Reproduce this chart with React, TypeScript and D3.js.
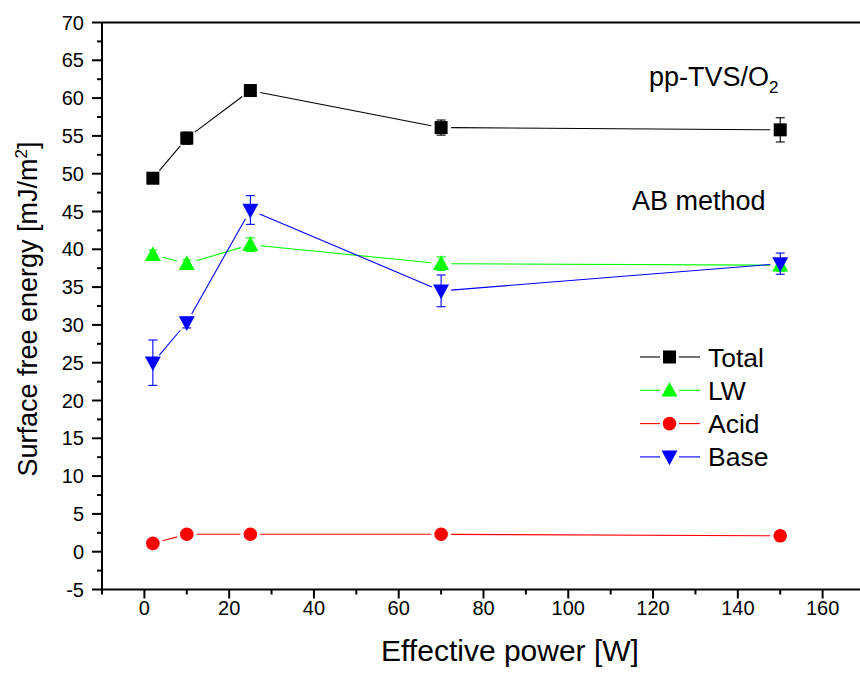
import React from "react";
import * as d3 from "d3";

// Effective discharge power [W]
const power = [2, 10, 25, 70, 150];

// Surface free energy components [mJ/m^2] and their standard deviations
const total = [49.4, 54.7, 61.0, 56.1, 55.8];
const totalErr = [0.3, 0.8, 0.3, 1.0, 1.6];
const lw = [39.3, 38.1, 40.6, 38.1, 37.9];
const lwErr = [0.6, 0.5, 0.9, 0.9, 0.8];
const acid = [1.1, 2.3, 2.3, 2.3, 2.1];
const acidErr = [0.1, 0.1, 0.1, 0.1, 0.1];
const base = [25.0, 30.3, 45.2, 34.5, 38.1];
const baseErr = [3.0, 0.7, 1.9, 2.1, 1.4];

const xTicks = [0, 20, 40, 60, 80, 100, 120, 140, 160];
const yTicks = [-5, 0, 5, 10, 15, 20, 25, 30, 35, 40, 45, 50, 55, 60, 65, 70];

type Shape = "square" | "triangle" | "circle" | "down";

const seriesList: { name: string; values: number[]; errs: number[]; color: string; shape: Shape }[] = [
  { name: "Total", values: total, errs: totalErr, color: "#000000", shape: "square" },
  { name: "LW", values: lw, errs: lwErr, color: "#00ff00", shape: "triangle" },
  { name: "Acid", values: acid, errs: acidErr, color: "#ff0000", shape: "circle" },
  { name: "Base", values: base, errs: baseErr, color: "#0000ff", shape: "down" },
];

const W = 860;
const H = 693;
const left = 102;
const right = 865;
const top = 22.5;
const bottom = 589.5;
const FONT = "Arial, 'Liberation Sans', Helvetica, sans-serif";

const x = d3.scaleLinear().domain([-10, 170]).range([left, right]);
const y = d3.scaleLinear().domain([-5, 70]).range([bottom, top]);

function Marker({ shape, cx, cy, color }: { shape: Shape; cx: number; cy: number; color: string }) {
  if (shape === "square") {
    return <rect x={cx - 6.5} y={cy - 6.5} width={13} height={13} fill={color} />;
  }
  if (shape === "circle") {
    return <circle cx={cx} cy={cy} r={6.8} fill={color} />;
  }
  const s = 8;
  const h = 14;
  const pts =
    shape === "triangle"
      ? [[cx, cy - h * 0.6], [cx - s, cy + h * 0.45], [cx + s, cy + h * 0.45]]
      : [[cx, cy + h * 0.6], [cx - s, cy - h * 0.45], [cx + s, cy - h * 0.45]];
  return <polygon points={pts.map((p) => p.join(",")).join(" ")} fill={color} />;
}

// Connecting segments leave a small gap around each marker
function gappedSegments(pts: [number, number][], gap: number) {
  const segs: [number, number, number, number][] = [];
  for (let i = 0; i < pts.length - 1; i++) {
    const [x1, y1] = pts[i];
    const [x2, y2] = pts[i + 1];
    const len = Math.hypot(x2 - x1, y2 - y1);
    if (len <= 2 * gap) continue;
    const ux = (x2 - x1) / len;
    const uy = (y2 - y1) / len;
    segs.push([x1 + ux * gap, y1 + uy * gap, x2 - ux * gap, y2 - uy * gap]);
  }
  return segs;
}

export default function App() {
  const xMinor = d3.range(-10, 171, 10).filter((v) => v % 20 !== 0);
  const yMinor = d3.range(-2.5, 70, 5);

  return (
    <svg width={W} height={H} style={{ display: "block", position: "absolute", left: 0, top: 0 }} fontFamily={FONT}>
      <rect width={W} height={H} fill="#ffffff" />

      {/* series */}
      {seriesList.map((s) => {
        const pts: [number, number][] = power.map((p, i) => [x(p), y(s.values[i])]);
        return (
          <g key={s.name}>
            {gappedSegments(pts, 10).map((g, i) => (
              <line key={i} x1={g[0]} y1={g[1]} x2={g[2]} y2={g[3]} stroke={s.color} strokeWidth={1.1} />
            ))}
            {power.map((p, i) => {
              const cx = x(p);
              const yHi = y(s.values[i] + s.errs[i]);
              const yLo = y(s.values[i] - s.errs[i]);
              return (
                <g key={i} stroke={s.color} strokeWidth={1.1}>
                  <line x1={cx} x2={cx} y1={yHi} y2={yLo} />
                  <line x1={cx - 4.5} x2={cx + 4.5} y1={yHi} y2={yHi} />
                  <line x1={cx - 4.5} x2={cx + 4.5} y1={yLo} y2={yLo} />
                </g>
              );
            })}
            {pts.map(([cx, cy], i) => (
              <Marker key={i} shape={s.shape} cx={cx} cy={cy} color={s.color} />
            ))}
          </g>
        );
      })}

      {/* axes frame */}
      <line x1={left} x2={W} y1={top} y2={top} stroke="#000" strokeWidth={2} />
      <line x1={left} x2={left} y1={top} y2={bottom} stroke="#000" strokeWidth={2} />
      <line x1={left - 1} x2={W} y1={bottom} y2={bottom} stroke="#000" strokeWidth={2} />

      {/* x ticks */}
      {xTicks.map((t) => (
        <g key={t}>
          <line x1={x(t)} x2={x(t)} y1={bottom} y2={bottom + 9} stroke="#000" strokeWidth={2} />
          <text x={x(t)} y={615} fontSize={20} textAnchor="middle" fill="#000">
            {t}
          </text>
        </g>
      ))}
      {xMinor.map((t) => (
        <line key={t} x1={x(t)} x2={x(t)} y1={bottom} y2={bottom + 5} stroke="#000" strokeWidth={2} />
      ))}

      {/* y ticks */}
      {yTicks.map((t) => (
        <g key={t}>
          <line x1={left - 10} x2={left} y1={y(t)} y2={y(t)} stroke="#000" strokeWidth={2} />
          <text x={84} y={y(t) + 7} fontSize={20} textAnchor="end" fill="#000">
            {t}
          </text>
        </g>
      ))}
      {yMinor.map((t) => (
        <line key={t} x1={left - 5} x2={left} y1={y(t)} y2={y(t)} stroke="#000" strokeWidth={2} />
      ))}

      {/* axis titles */}
      <text x={510} y={661} fontSize={30} textAnchor="middle" fill="#000">
        Effective power [W]
      </text>
      <text transform="translate(37,309) rotate(-90)" fontSize={27} textAnchor="middle" fill="#000">
        Surface free energy [mJ/m<tspan dy={-10} fontSize={17}>2</tspan>
        <tspan dy={10}>]</tspan>
      </text>

      {/* annotations */}
      <text x={649} y={86} fontSize={27} fill="#000">
        pp-TVS/O<tspan dy={7} fontSize={17}>2</tspan>
      </text>
      <text x={632} y={210} fontSize={27} fill="#000">
        AB method
      </text>

      {/* legend */}
      {seriesList.map((s, i) => {
        const cy = 357 + i * 33.3;
        return (
          <g key={s.name}>
            <line x1={640} x2={660} y1={cy} y2={cy} stroke={s.color} strokeWidth={1.1} />
            <line x1={679} x2={700} y1={cy} y2={cy} stroke={s.color} strokeWidth={1.1} />
            <Marker shape={s.shape} cx={669.5} cy={cy} color={s.color} />
            <text x={708} y={cy + 9.5} fontSize={26.5} fill="#000">
              {s.name}
            </text>
          </g>
        );
      })}
    </svg>
  );
}
